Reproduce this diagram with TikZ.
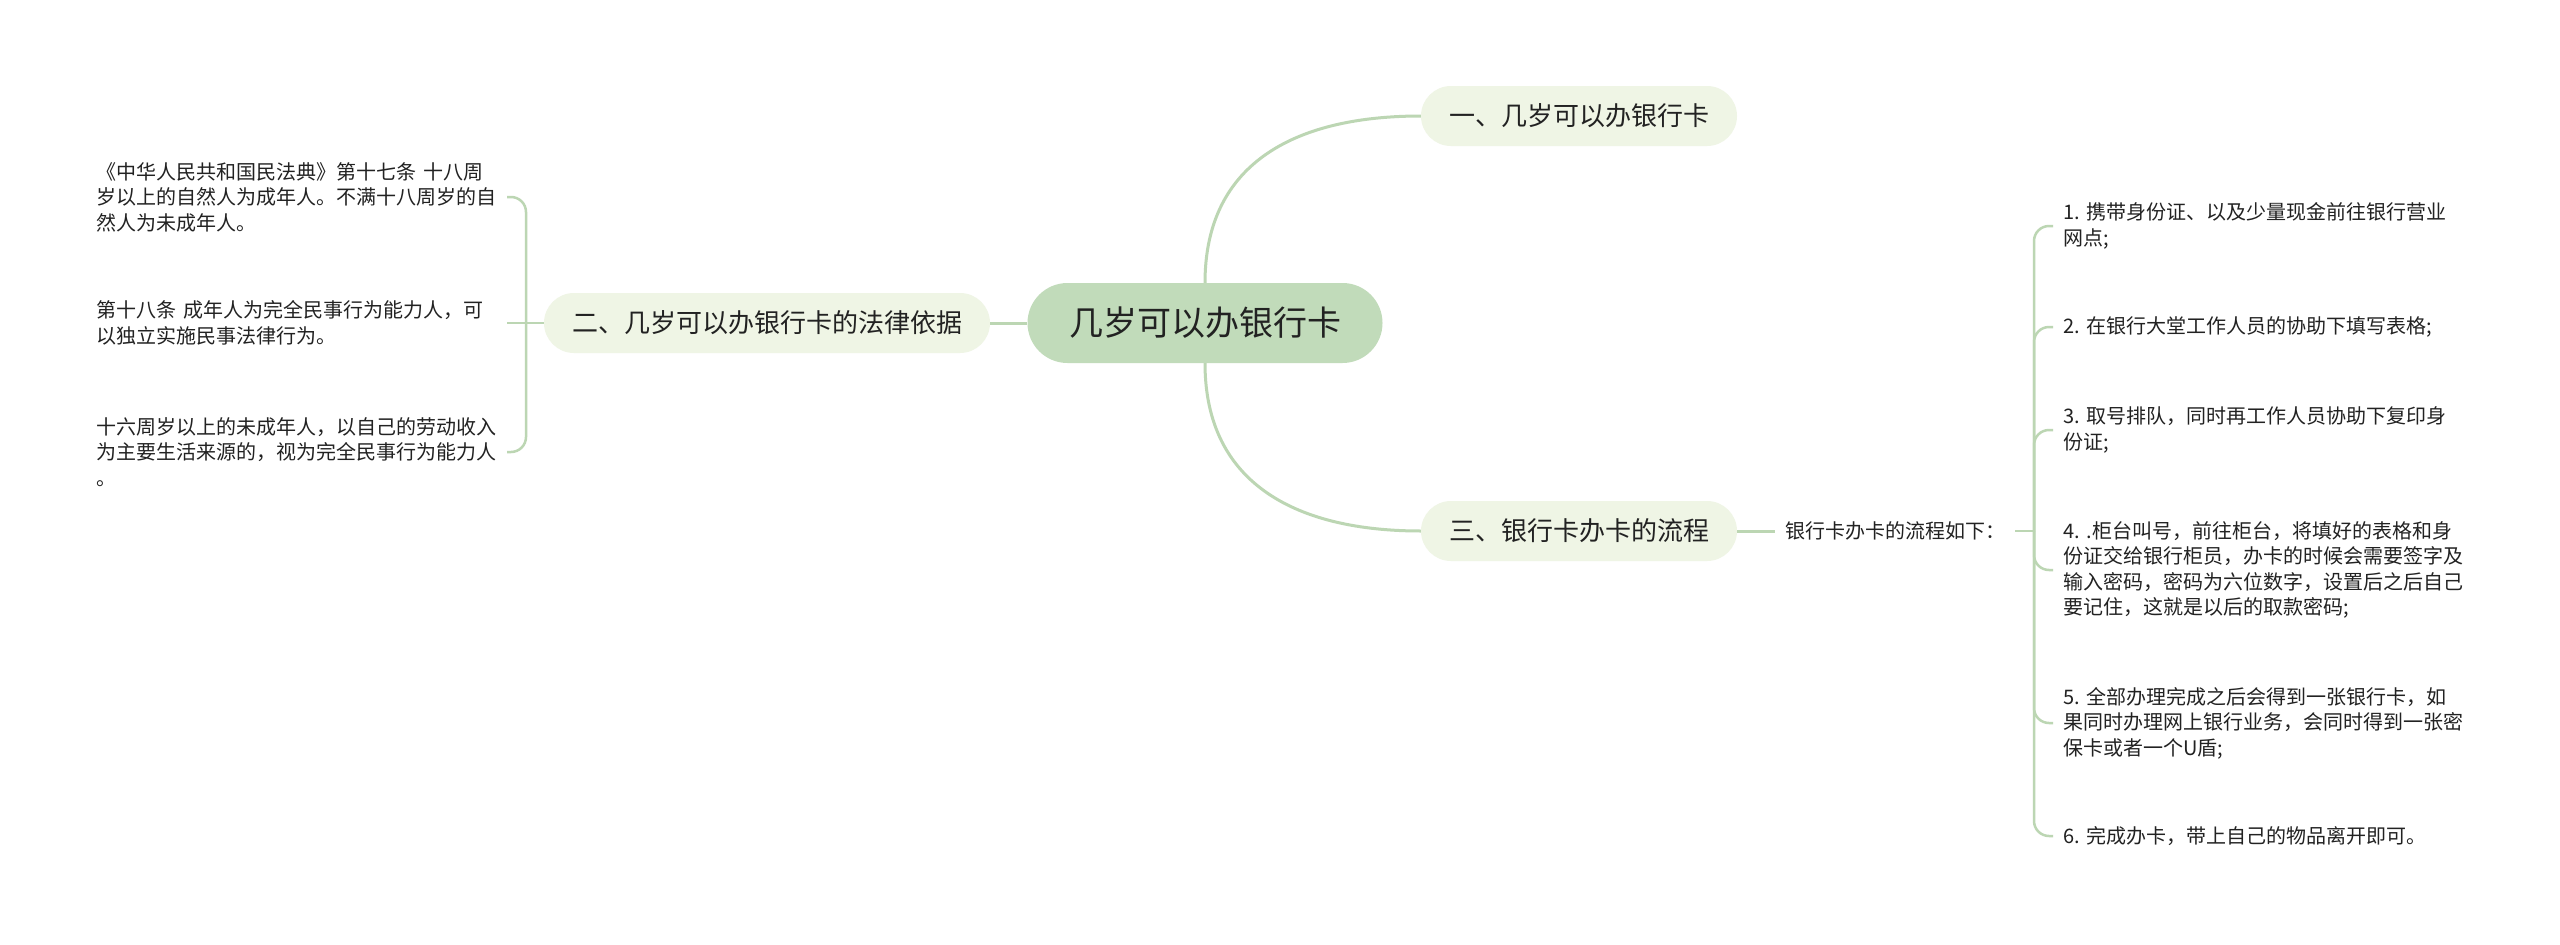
\documentclass[tikz,border=0pt]{standalone}
\usepackage{fontspec}
\setmainfont{Noto Sans CJK SC}
\frenchspacing
\definecolor{lineC}{HTML}{BCD6B3}
\definecolor{rootC}{HTML}{C1DBBA}
\definecolor{topC}{HTML}{EFF5E5}
\definecolor{txtC}{HTML}{222222}
\begin{document}
\begin{tikzpicture}[x=1pt,y=-1pt,
  conn/.style={draw=lineC, line width=3pt},
  brk/.style={draw=lineC, line width=2.5pt, rounded corners=15pt},
  rootbox/.style={fill=rootC, rounded corners=40pt, minimum width=355pt, minimum height=80pt, inner sep=0pt, text=txtC, font=\fontsize{34}{40}\selectfont},
  topic/.style={fill=topC, rounded corners=30pt, minimum height=60pt, inner sep=0pt, text=txtC, font=\fontsize{26}{30}\selectfont},
  lab/.style={inner xsep=10pt, inner ysep=0pt, text=txtC, font=\fontsize{20}{25.5}\selectfont},
  item/.style={text width=400pt, align=left, inner xsep=10pt, inner ysep=0pt, text=txtC, font=\fontsize{20}{25.5}\selectfont\frenchspacing}
]
\useasboundingbox[fill=white] (0,0) rectangle (2560,945);

% main nodes
\node[rootbox] (root) at (1205,323) {几岁可以办银行卡};
\node[topic, minimum width=316pt] (t1) at (1579,116) {一、几岁可以办银行卡};
\node[topic, minimum width=446pt] (t2) at (767,323) {二、几岁可以办银行卡的法律依据};
\node[topic, minimum width=316pt] (t3) at (1579,531) {三、银行卡办卡的流程};
\node[lab, anchor=west] (lab) at (1775,531) {银行卡办卡的流程如下：};

% left items
\node[item, anchor=east] (l1) at (507,197) {《中华人民共和国民法典》第十七条 十八周\\岁以上的自然人为成年人。不满十八周岁的自\\然人为未成年人。};
\node[item, anchor=east] (l2) at (507,323) {第十八条 成年人为完全民事行为能力人，可\\以独立实施民事法律行为。};
\node[item, anchor=east] (l3) at (507,452) {十六周岁以上的未成年人，以自己的劳动收入\\为主要生活来源的，视为完全民事行为能力人\\。};

% right items
\node[item, anchor=west] (r1) at (2053,226) {1. 携带身份证、以及少量现金前往银行营业\\网点;};
\node[item, anchor=west] (r2) at (2053,327) {2. 在银行大堂工作人员的协助下填写表格;};
\node[item, anchor=west] (r3) at (2053,430) {3. 取号排队，同时再工作人员协助下复印身\\份证;};
\node[item, anchor=west] (r4) at (2053,570) {4. .柜台叫号，前往柜台，将填好的表格和身\\份证交给银行柜员，办卡的时候会需要签字及\\输入密码，密码为六位数字，设置后之后自己\\要记住，这就是以后的取款密码;};
\node[item, anchor=west] (r5) at (2053,723) {5. 全部办理完成之后会得到一张银行卡，如\\果同时办理网上银行业务，会同时得到一张密\\保卡或者一个U盾;};
\node[item, anchor=west] (r6) at (2053,836) {6. 完成办卡，带上自己的物品离开即可。};

% connectors
\draw[conn] (root.north) .. controls +(0,-123) and +(-121,0) .. (t1.west);
\draw[conn] (root.south) .. controls +(0,123) and +(-121,0) .. (t3.west);
\draw[conn] (root.west) -- (t2.east);
\draw[conn] (t3.east) -- (lab.west);

\coordinate (lsp) at (526,323);
\draw[brk] (t2.west) -- (l2.east);
\draw[brk] (lsp) |- (l1.east);
\draw[brk] (lsp) |- (l3.east);

\coordinate (rsp) at (2034,531);
\draw[brk] (lab.east) -- (rsp);
\foreach \r in {r1,r2,r3,r4,r5,r6} {
  \draw[brk] (rsp) |- (\r.west);
}
\end{tikzpicture}
\end{document}
